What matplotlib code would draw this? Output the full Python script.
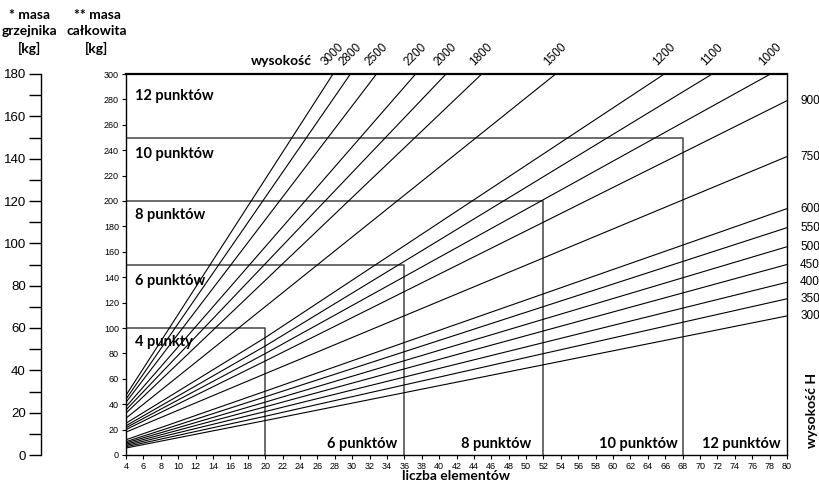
import numpy as np
import matplotlib
matplotlib.use("Agg")
import matplotlib.pyplot as plt

# heights of the radiator (mm) and their mass lines
heights = [3000, 2800, 2500, 2200, 2000, 1800, 1500, 1200, 1100, 1000,
           900, 750, 600, 550, 500, 450, 400, 350, 300]
mass_at_4 = [47, 44, 41.5, 38, 35.5, 33, 29, 25, 23, 21.5,
             20, 18, 12, 10.5, 9.5, 8.5, 7.5, 6.5, 5.5]
mass_at_20 = [np.nan] * 7 + [92.4, 85.8, 79.8, 74, 64, 50.2, 45.8, 41.6, 37.9, 34.2, 30.5, 27.1]
n_end = [27.8, 29.8, 32.8, 37.3, 40.8, 44.9, 53.4, 65.9, 71.4, 78.1,
         80, 80, 80, 80, 80, 80, 80, 80, 80]
m_end = [300] * 10 + [279, 235, 194, 179, 164, 150, 136, 123, 109.5]

# connection points zones
box_n = [20, 36, 52, 68]
box_m = [100, 150, 200, 250]
zone_left = ["4 punkty", "6 punktów", "8 punktów", "10 punktów", "12 punktów"]
zone_left_y = [89, 137, 189, 237, 283]
zone_bottom = ["6 punktów", "8 punktów", "10 punktów", "12 punktów"]
zone_bottom_x = [35.2, 50.6, 67.4, 79.3]

bold = "Lato"
num = "Liberation Sans"

fig = plt.figure(figsize=(8.2, 4.88), dpi=100)
ax = fig.add_axes([126 / 820, 1 - 455 / 488, 661 / 820, 381 / 488])

for h, a, b, ne, me in zip(heights, mass_at_4, mass_at_20, n_end, m_end):
    xs = [4] + ([20] if not np.isnan(b) else []) + [ne]
    ys = [a] + ([b] if not np.isnan(b) else []) + [me]
    ax.plot(xs, ys, color="black", lw=0.8, zorder=2, solid_capstyle="butt")
    if me >= 300:
        ax.text(ne - 0.6, 305, str(h), rotation=45, rotation_mode="anchor",
                ha="left", va="bottom", fontsize=8.5, family=num, clip_on=False)
    else:
        ax.text(81.5, me, str(h), ha="left", va="center", fontsize=8.5,
                family=num, clip_on=False)

for bn, bm in zip(box_n, box_m):
    ax.plot([4, bn, bn], [bm, bm, 0], color="#444444", lw=1.1, zorder=1)

for lab, yy in zip(zone_left, zone_left_y):
    ax.text(5, yy, lab, fontsize=10.5, fontweight="bold", family=bold,
            ha="left", va="center", zorder=3)
for lab, xx in zip(zone_bottom, zone_bottom_x):
    ax.text(xx, 9, lab, fontsize=10.5, fontweight="bold", family=bold,
            ha="right", va="center", zorder=3,
            bbox=dict(facecolor="white", edgecolor="none", pad=2))

ax.set_xlim(4, 80)
ax.set_ylim(0, 300)
ax.set_xticks(np.arange(4, 81, 2))
ax.set_yticks(np.arange(0, 301, 20))
ax.tick_params(labelsize=6.5, length=3, width=0.8, direction="out", pad=2)
for lbl in ax.get_xticklabels() + ax.get_yticklabels():
    lbl.set_family(num)
for s in ax.spines.values():
    s.set_linewidth(1.0)
ax.spines["top"].set_linewidth(1.6)
ax.set_xlabel("liczba elementów", fontsize=10, fontweight="bold", family=bold, labelpad=-1)

# left axis: radiator mass
ax2 = fig.add_axes([41 / 820, 1 - 455 / 488, 0.001, 381 / 488])
ax2.set_ylim(0, 180)
ax2.set_xticks([])
for k in ["top", "right", "bottom"]:
    ax2.spines[k].set_visible(False)
ax2.spines["left"].set_linewidth(1.0)
ax2.set_yticks(np.arange(0, 181, 20))
ax2.set_yticks(np.arange(10, 180, 20), minor=True)
ax2.tick_params(axis="y", which="both", length=9, width=1.0, labelsize=9.5, pad=2)
for lbl in ax2.get_yticklabels():
    lbl.set_family(num)

fig.text(30 / 820, 1 - 32 / 488, "* masa\ngrzejnika\n[kg]", ha="center", va="center",
         fontsize=10, fontweight="bold", family=bold, linespacing=1.4)
fig.text(97 / 820, 1 - 32 / 488, "** masa\ncałkowita\n[kg]", ha="center", va="center",
         fontsize=10, fontweight="bold", family=bold, linespacing=1.4)
fig.text(312 / 820, 1 - 61 / 488, "wysokość", ha="right", va="center",
         fontsize=10, fontweight="bold", family=bold)
fig.text(812 / 820, 1 - 410 / 488, "wysokość H", ha="center", va="center",
         rotation=90, fontsize=10, fontweight="bold", family=bold)

fig.savefig("out.png", dpi=100)
